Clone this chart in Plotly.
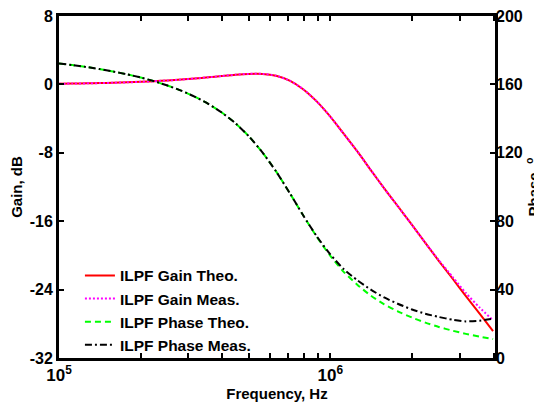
import plotly.graph_objects as go

freq_hz = [1.00e5, 1.12e5, 1.26e5, 1.41e5, 1.58e5, 1.78e5, 2.00e5, 2.24e5, 2.51e5, 2.82e5,
           3.16e5, 3.55e5, 3.98e5, 4.47e5, 5.01e5, 5.62e5, 6.31e5, 7.08e5, 7.94e5, 8.91e5,
           1.00e6, 1.12e6, 1.26e6, 1.41e6, 1.58e6, 1.78e6, 2.00e6, 2.24e6, 2.51e6, 2.82e6,
           3.16e6, 3.55e6, 3.98e6]

gain_theo = [0.08, 0.10, 0.12, 0.15, 0.19, 0.24, 0.30, 0.37, 0.46, 0.56,
             0.69, 0.83, 0.98, 1.13, 1.23, 1.23, 1.01, 0.44, -0.56, -1.99,
             -3.77, -5.77, -7.87, -10.02, -12.17, -14.31, -16.44, -18.54, -20.63, -22.70,
             -24.76, -26.81, -28.85]

gain_meas = [0.08, 0.10, 0.12, 0.15, 0.19, 0.24, 0.30, 0.37, 0.46, 0.56,
             0.69, 0.83, 0.98, 1.13, 1.23, 1.23, 1.01, 0.44, -0.56, -1.99,
             -3.77, -5.77, -7.87, -10.02, -12.17, -14.31, -16.44, -18.54, -20.55, -22.50,
             -24.40, -26.10, -27.60]

phase_theo = [172.27, 171.30, 170.20, 168.95, 167.53, 165.90, 164.02, 161.86, 159.33, 156.36,
              152.85, 148.63, 143.53, 137.29, 129.63, 120.27, 109.15, 96.57, 83.45, 70.88,
              59.74, 50.39, 42.72, 36.48, 31.37, 27.16, 23.64, 20.67, 18.15, 15.98,
              14.11, 12.48, 11.05]

phase_meas = [172.27, 171.30, 170.20, 168.95, 167.53, 165.90, 164.02, 161.86, 159.33, 156.36,
              152.85, 148.63, 143.53, 137.29, 129.63, 120.27, 109.15, 96.57, 83.45, 71.20,
              60.60, 52.00, 45.40, 40.00, 35.40, 31.60, 28.40, 25.90, 24.00, 22.40,
              21.40, 21.80, 23.00]

x_tickvals = [1e5, 2e5, 3e5, 4e5, 5e5, 6e5, 7e5, 8e5, 9e5, 1e6, 2e6, 3e6, 4e6]
x_ticktext = ["10<sup>5</sup>", " ", " ", " ", " ", " ", " ", " ", " ", "10<sup>6</sup>", " ", " ", " "]
gain_ticks = [-32, -24, -16, -8, 0, 8]
gain_ticktext = ["-32", "-24", "-16", "-8", "0", "8"]
phase_ticks = [0, 40, 80, 120, 160, 200]

FONT = "Liberation Sans, Arial, sans-serif"

fig = go.Figure()
fig.add_trace(go.Scatter(x=freq_hz, y=gain_theo, name="ILPF Gain Theo.", mode="lines",
                         line=dict(color="#ff0000", width=2, shape="spline", smoothing=0.6)))
fig.add_trace(go.Scatter(x=freq_hz, y=gain_meas, name="ILPF Gain Meas.", mode="lines",
                         line=dict(color="#ff00ff", width=2, dash="2px,2px", shape="spline", smoothing=0.6)))
fig.add_trace(go.Scatter(x=freq_hz, y=phase_theo, name="ILPF Phase Theo.", mode="lines", yaxis="y2",
                         line=dict(color="#00ff00", width=2, dash="6px,4px", shape="spline", smoothing=0.6)))
fig.add_trace(go.Scatter(x=freq_hz, y=phase_meas, name="ILPF Phase Meas.", mode="lines", yaxis="y2",
                         line=dict(color="#000000", width=2, dash="7px,3px,2px,3px", shape="spline", smoothing=0.6)))

fig.update_layout(
    width=534, height=400,
    margin=dict(l=51, r=47, t=8, b=50, autoexpand=False),
    paper_bgcolor="white", plot_bgcolor="white",
    font=dict(family=FONT, size=14, color="black"),
    showlegend=True,
    legend=dict(x=0.048, y=0.29, xanchor="left", yanchor="top",
                bgcolor="rgba(0,0,0,0)", font=dict(family=FONT, size=15.5, color="black", weight="bold"),
                tracegroupgap=0),
    xaxis=dict(type="log", range=[5, 6.607], tickvals=x_tickvals, ticktext=x_ticktext,
               tickangle=0, ticklabeloverflow="allow",
               ticks="inside", ticklen=5, tickwidth=2, tickcolor="black",
               showline=True, linewidth=3, linecolor="black", mirror="ticks",
               showgrid=False, zeroline=False, automargin=False,
               tickfont=dict(family=FONT, size=17, weight="bold"),
               title=dict(text="Frequency, Hz", font=dict(family=FONT, size=15, weight="bold"), standoff=4)),
    yaxis=dict(range=[-32, 8], tickvals=gain_ticks, ticktext=gain_ticktext,
               ticklabeloverflow="allow",
               ticks="inside", ticklen=5, tickwidth=2, tickcolor="black",
               showline=True, linewidth=3, linecolor="black", mirror="ticks",
               showgrid=False, zeroline=False, automargin=False,
               tickfont=dict(family=FONT, size=16, weight="bold"),
               title=dict(text="Gain, dB", font=dict(family=FONT, size=15, weight="bold"), standoff=8)),
    yaxis2=dict(range=[0, 200], tickvals=phase_ticks, overlaying="y", side="right",
                ticklabeloverflow="allow",
                ticks="inside", ticklen=5, tickwidth=2, tickcolor="black",
                showline=False, showgrid=False, zeroline=False, automargin=False,
                tickfont=dict(family=FONT, size=16, weight="bold"),
                title=dict(text="Phase, <sup>o</sup>", font=dict(family=FONT, size=15, weight="bold"), standoff=8)),
)

fig.write_html("out.html")
